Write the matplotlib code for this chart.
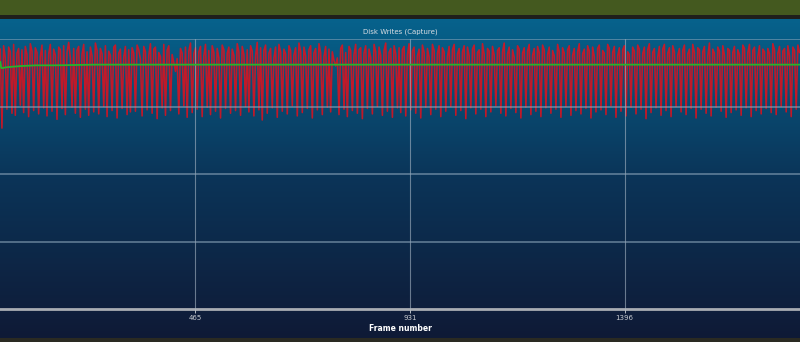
import numpy as np
import matplotlib
matplotlib.use("Agg")
import matplotlib.pyplot as plt
from matplotlib.patches import Rectangle
from matplotlib.colors import LinearSegmentedColormap

#------------------------------------------------------------------------------
# data (disk writes per frame, hundredths of a unit)
disk_writes = [
    385, 268, 390, 372, 296, 388, 381, 290, 392, 287, 379, 386, 302, 384, 291, 389, 377, 285, 393, 382,
    294, 387, 380, 289, 374, 391, 298, 383, 286, 378, 392, 293, 385, 376, 281, 388, 384, 297, 390, 288,
    380, 395, 372, 299, 386, 290, 383, 389, 284, 377, 392, 296, 381, 287, 388, 375, 292, 394, 383, 289,
    386, 378, 300, 390, 285, 382, 376, 294, 388, 391, 283, 379, 385, 297, 373, 389, 288, 384, 292, 387,
    379, 293, 391, 384, 370, 286, 389, 381, 295, 376, 393, 290, 385, 388, 282, 380, 374, 298, 392, 287,
    383, 390, 294, 377, 365, 352, 371, 289, 386, 379, 301, 388, 284, 382, 394, 291, 378, 387, 296, 381,
    389, 285, 375, 392, 299, 383, 288, 390, 380, 293, 386, 372, 283, 391, 384, 297, 379, 388, 290, 385,
    376, 294, 393, 381, 287, 389, 377, 300, 384, 292, 390, 382, 286, 375, 395, 295, 387, 280, 383, 391,
    290, 379, 386, 298, 372, 388, 284, 392, 381, 293, 385, 378, 289, 390, 383, 301, 376, 387, 286, 394,
    382, 291, 388, 375, 297, 384, 390, 283, 379, 386, 295, 393, 380, 288, 374, 389, 299, 385, 292, 381,
    368, 360, 372, 288, 386, 391, 296, 380, 285, 389, 383, 294, 377, 392, 290, 384, 387, 282, 379, 390,
    297, 385, 373, 289, 392, 381, 300, 388, 376, 287, 383, 394, 293, 380, 386, 284, 390, 378, 298, 387,
    291, 384, 389, 286, 377, 393, 295, 382, 388, 290, 375, 385, 283, 391, 380, 299, 386, 373, 288, 392,
    383, 296, 379, 390, 285, 387, 381, 293, 374, 389, 300, 384, 392, 287, 378, 386, 294, 381, 390, 282,
    388, 375, 298, 385, 391, 289, 380, 384, 296, 393, 377, 285, 386, 382, 292, 389, 376, 301, 383, 387,
    290, 381, 394, 286, 378, 388, 297, 384, 373, 291, 390, 385, 283, 379, 387, 299, 382, 392, 288, 376,
    386, 293, 389, 380, 285, 391, 384, 298, 377, 388, 290, 383, 375, 296, 392, 381, 284, 387, 379, 300,
    384, 390, 287, 376, 386, 294, 381, 393, 289, 378, 385, 297, 390, 382, 283, 388, 374, 292, 386, 391,
    295, 383, 379, 288, 392, 386, 301, 380, 389, 284, 375, 387, 293, 384, 390, 286, 381, 377, 299, 388,
    382, 289, 391, 385, 296, 378, 388, 282, 384, 393, 291, 380, 386, 298, 373, 389, 287, 385, 392, 294,
    379, 387, 285, 390, 381, 300, 376, 386, 292, 383, 391, 288, 378, 385, 297, 392, 380, 283, 387, 384,
    296, 381, 389, 290, 375, 394, 286, 385, 379, 299, 388, 382, 293, 390, 376, 284, 386, 383, 291, 380,
    389, 295, 384, 377, 287, 391, 386, 298, 380, 392, 285, 383, 388, 294, 374, 390, 289, 385, 381, 297,
    386, 378, 291, 393, 384, 288, 379, 389, 300, 382, 386, 292, 390, 375, 285, 388, 383, 296, 391, 380,
]
first_frame = 43
last_frame = 1775

# running average (green line)
avg_frames = [43, 45, 48, 55, 70, 90, 120, 160, 250, 500, 900, 1300, 1775]
avg_values = [366, 357, 357, 358, 359, 360, 361, 361, 362, 362, 362, 362, 362]

tick_frames = [465, 931, 1396]
tick_labels = ["465", "931", "1396"]
title_text = "Disk Writes (Capture)"
xlabel_text = "Frame number"

#------------------------------------------------------------------------------
W, H = 800, 342
fig = plt.figure(figsize=(W / 100, H / 100), dpi=100)
fig.patch.set_facecolor("#0f1a36")

# header bands
fig.patches.append(Rectangle((0, 1 - 15 / H), 1, 15 / H, transform=fig.transFigure,
                             facecolor="#44591f", edgecolor="none", zorder=0))
fig.patches.append(Rectangle((0, 1 - 19 / H), 1, 4 / H, transform=fig.transFigure,
                             facecolor="#1f1f1c", edgecolor="none", zorder=0))
fig.patches.append(Rectangle((0, 0), 1, 4 / H, transform=fig.transFigure,
                             facecolor="#2a2a22", edgecolor="none", zorder=0))

# gradient background of the chart area
bg = fig.add_axes([0, 4 / H, 1, (338 - 19) / H])
cmap = LinearSegmentedColormap.from_list("bg", ["#0f1a36", "#0b3458", "#06628c"])
grad = np.linspace(0, 1, 256).reshape(-1, 1)
bg.imshow(grad, aspect="auto", cmap=cmap, origin="lower", extent=[0, 1, 0, 1])
bg.set_axis_off()

# main plot axes (top edge = top grid line)
ax = fig.add_axes([0, 33 / H, 1, (309 - 39) / H])
ax.set_facecolor("none")

frames = np.linspace(first_frame, last_frame, len(disk_writes))
ax.plot(frames, np.array(disk_writes) / 100.0, color="#e3101c", lw=1.15, alpha=0.85,
        zorder=2, clip_on=False)
ax.plot(avg_frames, np.array(avg_values) / 100.0, color="#25b52a", lw=1.3, zorder=3)

ax.set_xlim(42.4, 1776)
ax.set_ylim(0, 4.0)

ax.set_xticks(tick_frames)
ax.set_xticklabels(tick_labels)
ax.set_yticks([1, 2, 3, 4])
ax.tick_params(axis="x", direction="out", length=3, width=0.7, color="#b8bec6",
               labelsize=5, labelcolor="#c8ccd2", pad=1.5)
ax.tick_params(axis="y", left=False, labelleft=False)

ax.set_axisbelow(False)
ax.grid(axis="y", color="#8ea6ba", alpha=0.55, lw=1.4)
ax.grid(axis="x", color="#a8b6c4", alpha=0.6, lw=0.8)

for side in ["top", "left", "right"]:
    ax.spines[side].set_visible(False)
ax.spines["bottom"].set_color("#a9adb3")
ax.spines["bottom"].set_linewidth(2)

ax.set_xlabel(xlabel_text, fontsize=5.5, fontweight="bold", color="white", labelpad=2)
fig.text(0.5, 1 - 32 / H, title_text, fontsize=5, color="#d8dde3", ha="center", va="center")

fig.savefig("out.png", dpi=100, facecolor=fig.get_facecolor())
